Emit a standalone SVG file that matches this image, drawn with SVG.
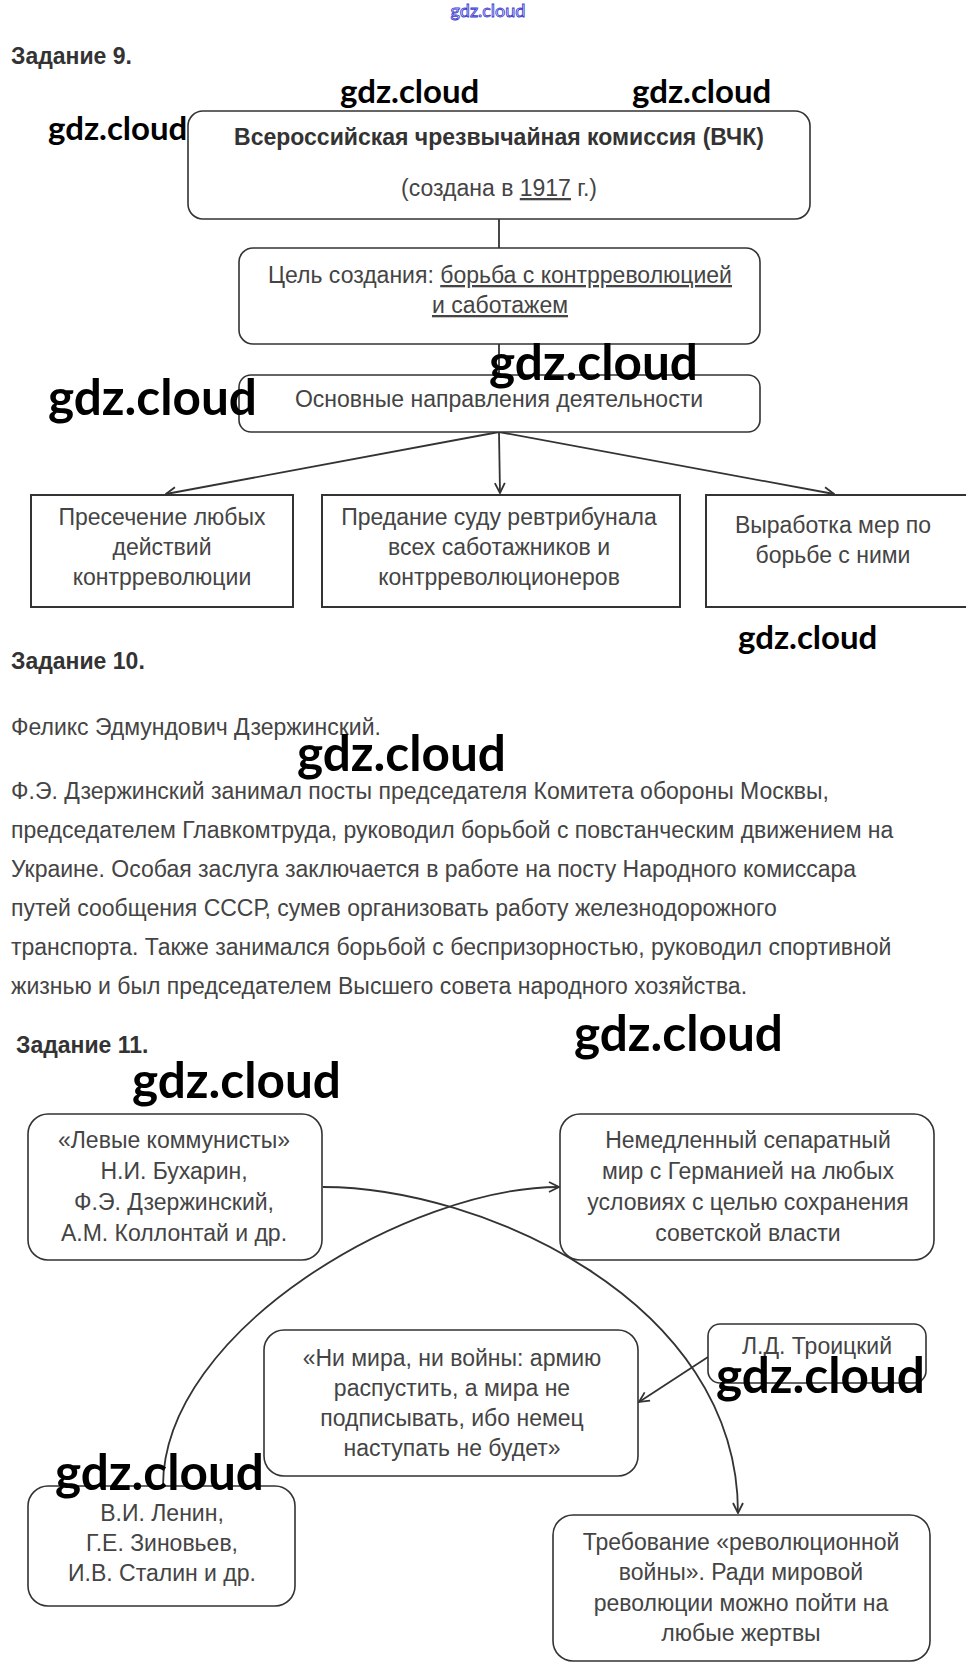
<svg xmlns="http://www.w3.org/2000/svg" width="973" height="1675" viewBox="0 0 973 1675">
<style>
  .bg{fill:#ffffff}
  .h{font-family:"Liberation Sans",Arial,sans-serif;font-weight:bold;font-size:23px;fill:#333}
  .t{font-family:"Liberation Sans",Arial,sans-serif;font-size:23px;fill:#444}
  .tb{font-family:"Liberation Sans",Arial,sans-serif;font-weight:bold;font-size:23px;fill:#333}
  .p{font-family:"Liberation Sans",Arial,sans-serif;font-size:23px;fill:#444}
  .s{font-family:"Liberation Sans",Arial,sans-serif;font-size:23px;fill:#444}
  .c{text-anchor:middle}
  .u{text-decoration:underline}
  .rb{fill:#fff;stroke:#333;stroke-width:1.6}
  .sq{fill:#fff;stroke:#333;stroke-width:2}
  .ln{fill:none;stroke:#333;stroke-width:1.8}
  .wm{font-family:Lato,"Open Sans",sans-serif;font-weight:bold;fill:#000}
  .w1{font-size:33px}
  .w2{font-size:49.5px}
</style>
<defs>
  <marker id="ah" viewBox="0 0 12 12" refX="11" refY="6" markerWidth="12" markerHeight="12" markerUnits="userSpaceOnUse" orient="auto">
    <path d="M1,1 L11,6 L1,11" fill="none" stroke="#333" stroke-width="1.8"/>
  </marker>
</defs>
<rect class="bg" x="0" y="0" width="973" height="1675"/>

<text x="488" y="17" text-anchor="middle" font-family="Lato,sans-serif" font-size="18" fill="#fff" stroke="#3a3ad0" stroke-width="0.9">gdz.cloud</text>

<text class="h" x="11" y="64">Задание 9.</text>

<g id="connectors9">
  <line class="ln" x1="499" y1="219" x2="499" y2="248"/>
  <line class="ln" x1="499" y1="344" x2="499" y2="375"/>
  <line class="ln" x1="499" y1="432" x2="166" y2="494" marker-end="url(#ah)"/>
  <line class="ln" x1="499" y1="432" x2="500" y2="493" marker-end="url(#ah)"/>
  <line class="ln" x1="499" y1="432" x2="834" y2="494" marker-end="url(#ah)"/>
</g>

<g id="vchk">
  <rect class="rb" x="188" y="111" width="622" height="108" rx="15"/>
  <text class="tb c" x="499" y="145">Всероссийская чрезвычайная комиссия (ВЧК)</text>
  <text class="t c" x="499" y="196">(создана в <tspan class="u">1917</tspan> г.)</text>
</g>
<g id="goal">
  <rect class="rb" x="239" y="248" width="521" height="96" rx="14"/>
  <text class="t c" x="500" y="283">Цель создания: <tspan class="u">борьба с контрреволюцией</tspan></text>
  <text class="t c u" x="500" y="313">и саботажем</text>
</g>
<g id="directions">
  <rect class="rb" x="239" y="375" width="521" height="57" rx="12"/>
  <text class="t c" x="499" y="407">Основные направления деятельности</text>
</g>
<g id="dir1">
  <rect class="sq" x="31" y="495" width="262" height="112"/>
  <text class="t c" x="162" y="525">Пресечение любых</text>
  <text class="t c" x="162" y="555">действий</text>
  <text class="t c" x="162" y="585">контрреволюции</text>
</g>
<g id="dir2">
  <rect class="sq" x="322" y="495" width="358" height="112"/>
  <text class="t c" x="499" y="525">Предание суду ревтрибунала</text>
  <text class="t c" x="499" y="555">всех саботажников и</text>
  <text class="t c" x="499" y="585">контрреволюционеров</text>
</g>
<g id="dir3">
  <path class="sq" d="M966,495 H706 V607 H966"/>
  <text class="t c" x="833" y="533">Выработка мер по</text>
  <text class="t c" x="833" y="563">борьбе с ними</text>
</g>

<text class="h" x="11" y="669">Задание 10.</text>
<g id="task10">
  <text class="p" x="11" y="735">Феликс Эдмундович Дзержинский.</text>
  <text class="p" x="11" y="799">Ф.Э. Дзержинский занимал посты председателя Комитета обороны Москвы,</text>
  <text class="p" x="11" y="838">председателем Главкомтруда, руководил борьбой с повстанческим движением на</text>
  <text class="p" x="11" y="877">Украине. Особая заслуга заключается в работе на посту Народного комиссара</text>
  <text class="p" x="11" y="916">путей сообщения СССР, сумев организовать работу железнодорожного</text>
  <text class="p" x="11" y="955">транспорта. Также занимался борьбой с беспризорностью, руководил спортивной</text>
  <text class="p" x="11" y="994">жизнью и был председателем Высшего совета народного хозяйства.</text>
</g>

<text class="h" x="16" y="1053">Задание 11.</text>

<g id="connectors11">
  <path class="ln" d="M323,1187 C480,1187 738,1300 738,1513" marker-end="url(#ah)"/>
  <path class="ln" d="M163,1486 C163,1330 410,1187 559,1187" marker-end="url(#ah)"/>
  <line class="ln" x1="708" y1="1357" x2="639" y2="1402" marker-end="url(#ah)"/>
</g>

<g id="left-communists">
  <rect class="rb" x="28" y="1114" width="294" height="146" rx="20"/>
  <text class="s c" x="174" y="1148">«Левые коммунисты»</text>
  <text class="s c" x="174" y="1179">Н.И. Бухарин,</text>
  <text class="s c" x="174" y="1210">Ф.Э. Дзержинский,</text>
  <text class="s c" x="174" y="1241">А.М. Коллонтай и др.</text>
</g>
<g id="separate-peace">
  <rect class="rb" x="560" y="1114" width="374" height="146" rx="20"/>
  <text class="s c" x="748" y="1148">Немедленный сепаратный</text>
  <text class="s c" x="748" y="1179">мир с Германией на любых</text>
  <text class="s c" x="748" y="1210">условиях с целью сохранения</text>
  <text class="s c" x="748" y="1241">советской власти</text>
</g>
<g id="no-peace-no-war">
  <rect class="rb" x="264" y="1330" width="374" height="146" rx="20"/>
  <text class="s c" x="452" y="1366">«Ни мира, ни войны: армию</text>
  <text class="s c" x="452" y="1396">распустить, а мира не</text>
  <text class="s c" x="452" y="1426">подписывать, ибо немец</text>
  <text class="s c" x="452" y="1456">наступать не будет»</text>
</g>
<g id="trotsky">
  <rect class="rb" x="708" y="1324" width="218" height="59" rx="12"/>
  <text class="s c" x="817" y="1354">Л.Д. Троицкий</text>
</g>
<g id="lenin">
  <rect class="rb" x="28" y="1486" width="267" height="120" rx="20"/>
  <text class="s c" x="162" y="1521">В.И. Ленин,</text>
  <text class="s c" x="162" y="1551">Г.Е. Зиновьев,</text>
  <text class="s c" x="162" y="1581">И.В. Сталин и др.</text>
</g>
<g id="revolutionary-war">
  <rect class="rb" x="553" y="1515" width="377" height="146" rx="20"/>
  <text class="s c" x="741" y="1550">Требование «революционной</text>
  <text class="s c" x="741" y="1580">войны». Ради мировой</text>
  <text class="s c" x="741" y="1611">революции можно пойти на</text>
  <text class="s c" x="741" y="1641">любые жертвы</text>
</g>

<g id="watermarks">
  <text class="wm w1" x="340" y="103">gdz.cloud</text>
  <text class="wm w1" x="632" y="103">gdz.cloud</text>
  <text class="wm w1" x="48" y="140">gdz.cloud</text>
  <text class="wm w2" x="489" y="380">gdz.cloud</text>
  <text class="wm w2" x="48" y="415">gdz.cloud</text>
  <text class="wm w1" x="738" y="649">gdz.cloud</text>
  <text class="wm w2" x="297" y="771">gdz.cloud</text>
  <text class="wm w2" x="574" y="1051">gdz.cloud</text>
  <text class="wm w2" x="132" y="1098">gdz.cloud</text>
  <text class="wm w2" x="716" y="1393">gdz.cloud</text>
  <text class="wm w2" x="55" y="1490">gdz.cloud</text>
</g>
</svg>
